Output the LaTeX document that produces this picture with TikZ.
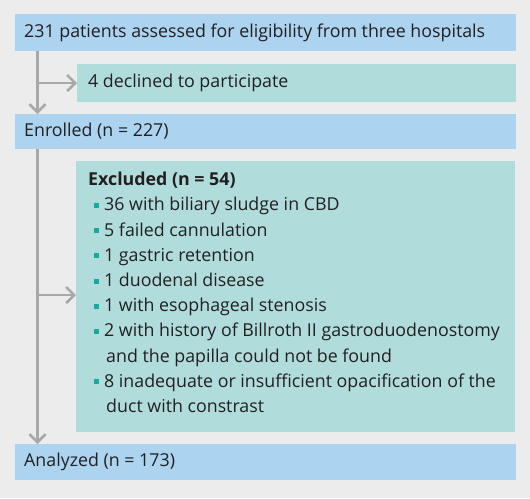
\documentclass[tikz,border=0pt]{standalone}
\usepackage{fontspec}
\setmainfont{Open Sans}
\usetikzlibrary{arrows.meta}
\definecolor{bg}{HTML}{EBECEB}
\definecolor{boxblue}{HTML}{ACD3EF}
\definecolor{boxteal}{HTML}{B0DDDB}
\definecolor{linegrey}{HTML}{A7A8AA}
\definecolor{bulteal}{HTML}{17A89E}
\definecolor{txt}{HTML}{231F20}
\newcommand{\bul}{\makebox[16pt][l]{\hspace{6pt}\raisebox{3pt}{\textcolor{bulteal}{\rule{5pt}{5pt}}}}}
\tikzset{
  box/.style={anchor=north west, inner sep=0pt, outer sep=0pt, minimum height=#1},
  bluebox/.style={fill=boxblue},
  tealbox/.style={fill=boxteal},
  lbl/.style={anchor=west, inner sep=0pt, text=txt, font=\fontsize{17.8}{25.2}\selectfont},
  conn/.style={draw=linegrey, line width=2.6pt},
  arr/.style={conn, -{Straight Barb[length=8pt,width=16pt,line width=2.6pt]}}
}
\begin{document}
\begin{tikzpicture}[x=1pt,y=-1pt]
\useasboundingbox[fill=bg] (0,0) rectangle (530,498);
% boxes
\node[box=37pt, bluebox, minimum width=501pt] (b1) at (15,14) {};
\node[box=38pt, tealbox, minimum width=439pt] (b2) at (77,64) {};
\node[box=35pt, bluebox, minimum width=501pt] (b3) at (15,114) {};
\node[box=271pt, tealbox, minimum width=439pt] (b4) at (76,161) {};
\node[box=36pt, bluebox, minimum width=501pt] (b5) at (15,444) {};
% texts
\node[lbl] (t1) at (24,32.5) {231 patients assessed for eligibility from three hospitals};
\node[lbl] (t2) at (88,83) {4 declined to participate};
\node[lbl] (t3) at (24,131.5) {Enrolled (n = 227)};
\node[lbl, anchor=north west, align=left] (t4) at (88,172) {%
\textbf{Excluded (n = 54)}\\
\bul 36 with biliary sludge in CBD\\
\bul 5 failed cannulation\\
\bul 1 gastric retention\\
\bul 1 duodenal disease\\
\bul 1 with esophageal stenosis\\
\bul 2 with history of Billroth II gastroduodenostomy\\
\hspace*{18pt}and the papilla could not be found\\
\bul 8 inadequate or insufficient opacification of the\\
\hspace*{18pt}duct with constrast};
\node[lbl] (t5) at (24,462) {Analyzed (n = 173)};
% connectors
\coordinate (s1) at (37.5,51);
\coordinate (s2) at (37.5,149);
\draw[arr] (s1) -- (s1 |- b3.north);
\draw[arr] (s1 |- b2.west) -- (b2.west);
\draw[arr] (s2) -- (s2 |- b5.north);
\draw[arr] (s2 |- 0,295) -- (b4.west |- 0,295);
\end{tikzpicture}
\end{document}
